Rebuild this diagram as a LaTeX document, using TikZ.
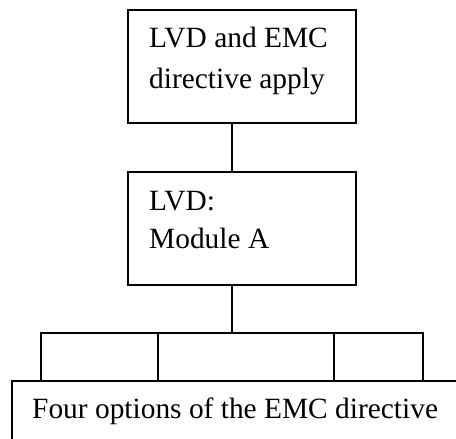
\documentclass[tikz,border=0pt]{standalone}
\usepackage{fontspec}
\setmainfont{Liberation Serif}
\begin{document}
\begin{tikzpicture}[x=1pt,y=-1pt,
  box/.style={draw=black,line width=1.5pt,rectangle,inner sep=0pt,
    minimum width=#1},
  box/.default=228pt,
  label/.style={anchor=base west,inner sep=0pt,
    font=\fontsize{29.4}{40}\selectfont},
  wire/.style={draw=black,line width=1.5pt}]
\useasboundingbox (0,0) rectangle (456,439);
\clip (0,0) rectangle (456,439);

% the two upper boxes
\node[box,minimum height=113pt] (top) at (242,66.5) {};
\node[box,minimum height=113pt] (mid) at (242,228.5) {};
% the wide box at the foot, running past the page edge
\node[box=468pt,minimum height=89pt] (bot) at (246,425.5) {};

% texts
\node[label] (t1) at (149,48) {LVD and EMC};
\node[label] (t2) at (149,88) {directive apply};
\node[label] (m1) at (149,210) {LVD:};
\node[label] (m2) at (149,248) {Module A};
\node[label] (b0) at (32,418) {Four options of the EMC directive};

% trunk and branches
\coordinate (trunk) at (232,333);
\coordinate (br1) at (41,333);
\coordinate (br2) at (158,333);
\coordinate (br3) at (334,333);
\coordinate (br4) at (423,333);

\draw[wire] (top.south -| trunk) -- (mid.north -| trunk);
\draw[wire] (mid.south -| trunk) -- (trunk);
\draw[wire] (bot.north -| br1) -- (br1) -- (br4) -- (bot.north -| br4);
\draw[wire] (br2) -- (bot.north -| br2);
\draw[wire] (br3) -- (bot.north -| br3);
\end{tikzpicture}
\end{document}
